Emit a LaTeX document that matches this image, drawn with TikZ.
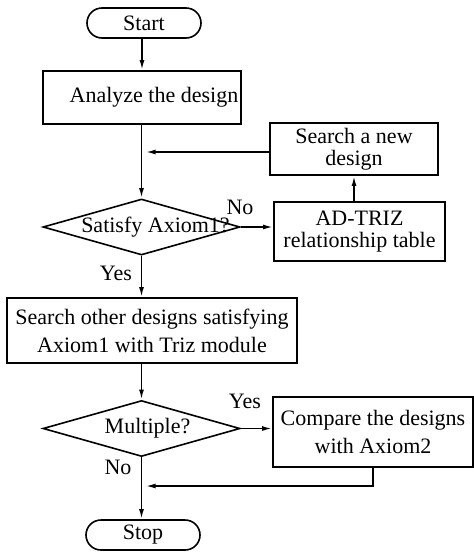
\documentclass[tikz,border=0pt]{standalone}
\usepackage{fontspec}
\setmainfont{Liberation Serif}
\usepackage{xcolor}
\usepackage{tikz}
\usetikzlibrary{calc}
\usetikzlibrary{arrows.meta}
\usetikzlibrary{shapes.geometric}
\usetikzlibrary{positioning}

\tikzset{
	box/.style={draw, rectangle, align=center, inner sep=0pt},
	terminal/.style={draw, rectangle, rounded corners=7.5pt, inner sep=0pt, minimum width=57pt, minimum height=15pt},
	decision/.style={draw, diamond, inner sep=0pt, minimum width=98.5pt, minimum height=28pt},
	flow/.style={-{Latex[length=5pt,width=2.4pt]}}
}

\begin{document}
\begin{tikzpicture}[x=0.5pt, y=-0.5pt, line width=0.8pt, font=\fontsize{11pt}{13.2pt}\selectfont]
			\useasboundingbox (0,0) rectangle (474,552);
			\node[terminal] at(144, 23) (start){Start};
			\node[box, minimum width=99pt, minimum height=26.5pt] at(142, 97.5) (analyze){\hspace*{12pt}Analyze the design};
			\node[box, minimum width=84pt, minimum height=26pt] at(354, 149) (newdesign){Search a new\\[-2.2pt]design};
			\node[decision] at(141.5, 227) (axiom1){\makebox[0pt]{\hspace*{14pt}Satisfy Axiom1?}};
			\node[box, minimum width=85.5pt, minimum height=29.5pt] at(359.5, 231.5) (adtriz){AD-TRIZ\\[-2.2pt]relationship table};
			\node[box, minimum width=145pt, minimum height=32.5pt] at(152, 330.5) (others){Search other designs satisfying\\[0.8pt]Axiom1 with Triz module};
			\node[decision] at(141.5, 428.5) (multiple){\makebox[0pt]{\hspace*{6pt}Multiple?}};
			\node[box, minimum width=100pt, minimum height=35pt] at(373, 432) (compare){Compare the designs\\[1pt]with Axiom2};
			\node[terminal] at(143, 535) (stop){Stop};
			\node at(240, 207) (no1){No};
			\node at(116, 273) (yes1){Yes};
			\node at(245, 401) (yes2){Yes};
			\node at(118, 467) (no2){No};
			\coordinate (back1) at(141.5, 152);
			\coordinate (back2) at(141.5, 486);
			\draw[flow] (start.south -| analyze.north) -- (analyze.north);
			\draw[flow] (analyze.south -| axiom1.north) -- (axiom1.north);
			\draw[flow] (axiom1.east) -- (axiom1.east -| adtriz.west);
			\draw[flow] (adtriz.north -| newdesign.south) -- (newdesign.south);
			\draw[flow, shorten >=2pt] (newdesign.west |- back1) -- (back1);
			\draw[flow] (axiom1.south) -- (axiom1.south |- others.north);
			\draw[flow] (others.south -| multiple.north) -- (multiple.north);
			\draw[flow] (multiple.east) -- (multiple.east -| compare.west);
			\draw[flow, shorten >=2pt] (compare.south) |- (back2);
			\draw[flow] (multiple.south) -- (multiple.south |- stop.north);
		\end{tikzpicture}
\end{document}
